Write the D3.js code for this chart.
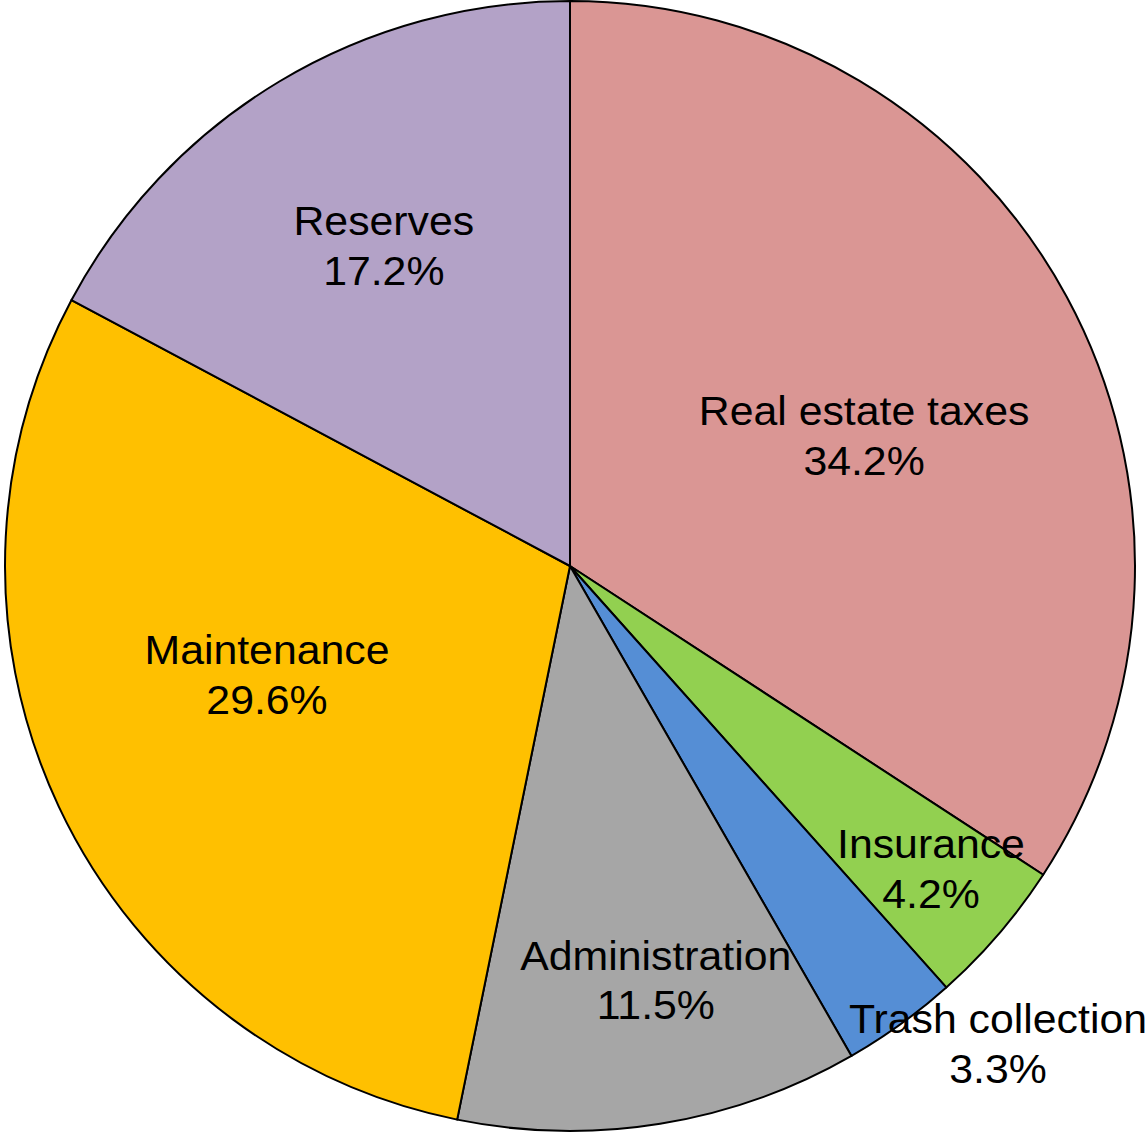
<html lang="en">
<head>
  <meta charset="utf-8">
  <title>Budget pie</title>
  <script src="https://cdn.jsdelivr.net/npm/d3@7/dist/d3.min.js"></script>
  <style>
    html, body { margin: 0; padding: 0; background: #fff; overflow: hidden; }
    text { font-family: "Liberation Sans", Arial, sans-serif; }
  </style>
</head>
<body>
  <svg width="1146" height="1133"></svg>
  <script>
  // data
  const categories = ["Real estate taxes", "Insurance", "Trash collection", "Administration", "Maintenance", "Reserves"];
  const shares = [34.2, 4.2, 3.3, 11.5, 29.6, 17.2];
  const colors = ["#DA9694", "#92D050", "#558ED5", "#A6A6A6", "#FFC000", "#B3A2C7"];

  // label placement tweaks (fraction of radius, angle nudge in degrees)
  const labelRadius = [0.569, 0.835, 1.136, 0.75, 0.57, 0.654];
  const labelNudge = [4.6, -0.6, -6, -2.5, 5.4, 0.7];

  const cx = 570, cy = 566, r = 565;

  const svg = d3.select("svg");
  const g = svg.append("g").attr("transform", `translate(${cx},${cy})`);

  const pie = d3.pie().sort(null).value(d => d.v);
  const arcs = pie(categories.map((c, i) => ({ name: c, v: shares[i], i })));
  const arc = d3.arc().innerRadius(0).outerRadius(r);

  g.selectAll("path")
    .data(arcs)
    .enter()
    .append("path")
    .attr("d", arc)
    .attr("fill", d => colors[d.data.i])
    .attr("stroke", "#000")
    .attr("stroke-width", 2)
    .attr("stroke-linejoin", "round");

  const label = g.selectAll("text.lbl")
    .data(arcs)
    .enter()
    .append("text")
    .attr("class", "lbl")
    .attr("text-anchor", "middle")
    .attr("font-size", 40)
    .attr("fill", "#000")
    .attr("transform", d => {
      const a = (d.startAngle + d.endAngle) / 2 + labelNudge[d.data.i] * Math.PI / 180;
      const rr = r * labelRadius[d.data.i];
      return `translate(${rr * Math.sin(a)},${-rr * Math.cos(a)}) scale(1.07,1)`;
    });

  label.append("tspan")
    .attr("x", 0)
    .attr("y", -25)
    .attr("dominant-baseline", "central")
    .text(d => d.data.name);

  label.append("tspan")
    .attr("x", 0)
    .attr("y", 25)
    .attr("dominant-baseline", "central")
    .text(d => d.data.v.toFixed(1) + "%");
  </script>
</body>
</html>
